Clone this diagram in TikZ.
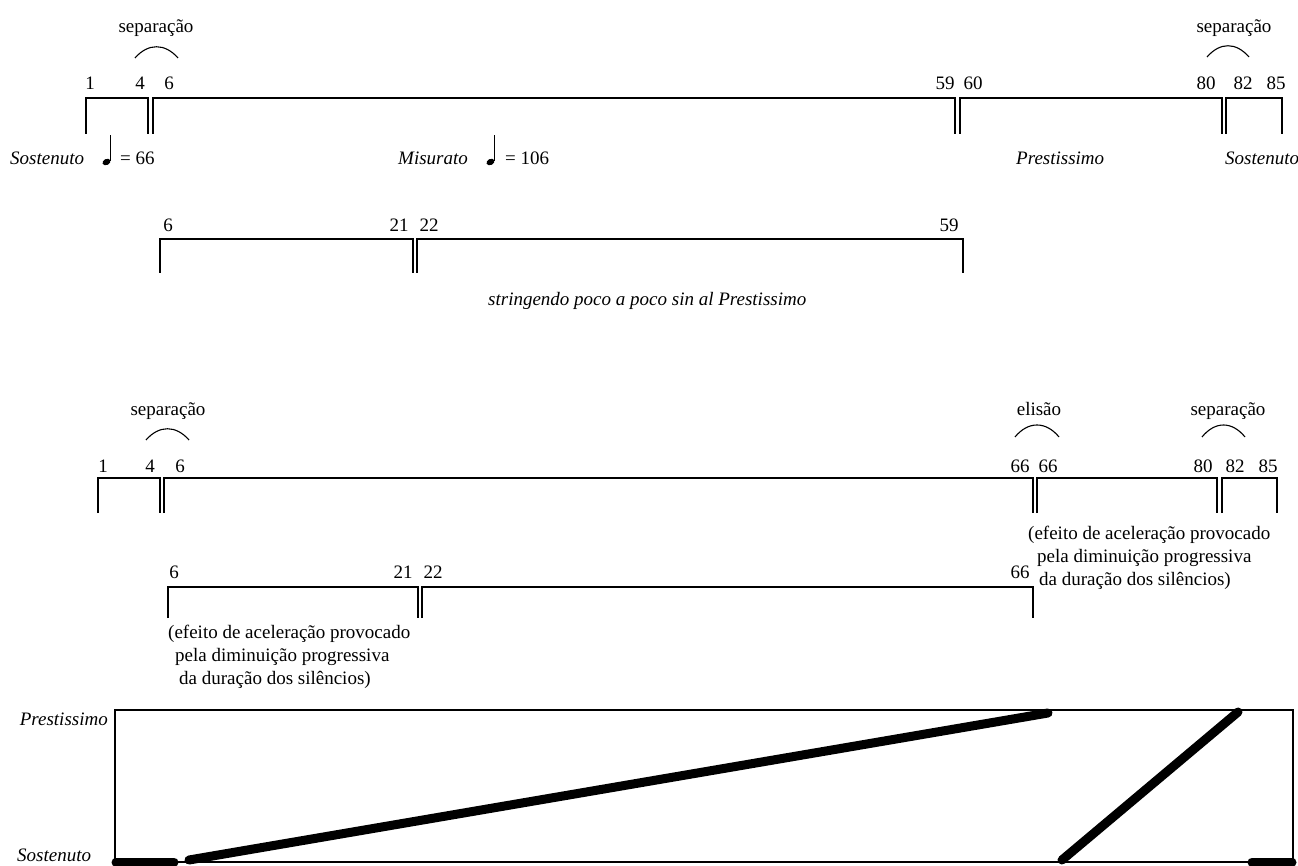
\documentclass[tikz,border=0pt]{standalone}
\usepackage{fontspec}
\setmainfont{Liberation Serif}
\begin{document}
\begin{tikzpicture}[x=1pt,y=-1pt,
  font=\fontsize{19}{23}\selectfont,
  bar/.style={line width=1.6pt},
  slur/.style={line width=1.1pt},
  lbl/.style={anchor=base, inner sep=0pt},
  lblw/.style={anchor=base west, inner sep=0pt},
  itl/.style={anchor=base west, inner sep=0pt, font=\fontsize{19}{23}\selectfont\itshape},
  curve/.style={line width=9pt, line cap=round}]
\useasboundingbox (0,0) rectangle (1298,866);

% ---------- row 1 ----------
\draw[bar] (86,134) |- (148,98) -- (148,134);
\draw[bar] (153,134) |- (955,98) -- (955,134);
\draw[bar] (960,134) |- (1222,98) -- (1222,134);
\draw[bar] (1226,134) |- (1282,98) -- (1282,134);
\node[lbl] (r1a) at (90,90) {1};
\node[lbl] (r1b) at (140,90) {4};
\node[lbl] (r1c) at (169,90) {6};
\node[lbl] (r1d) at (945,90) {59};
\node[lbl] (r1e) at (973,90) {60};
\node[lbl] (r1f) at (1206,90) {80};
\node[lbl] (r1g) at (1243,90) {82};
\node[lbl] (r1h) at (1276,90) {85};
\node[lbl] (s1) at (156,33) {separação};
\draw[slur] (135,58) .. controls (148,43) and (165,43) .. (178,58);
\node[lbl] (s2) at (1234,33) {separação};
\draw[slur] (1207,57) .. controls (1220,42) and (1236,42) .. (1249,57);

\node[itl] (sost1) at (10,165) {Sostenuto};
\fill[rotate around={25:(106.5,162)}] (106.5,162) ellipse [x radius=4.2pt, y radius=3pt];
\draw[line width=1pt] (110.2,161) -- (110.2,135);
\node[lblw] (eq1) at (120,165) {= 66};
\node[itl] (mis) at (398,165) {Misurato};
\fill[rotate around={25:(490.5,162)}] (490.5,162) ellipse [x radius=4.2pt, y radius=3pt];
\draw[line width=1pt] (494.2,161) -- (494.2,135);
\node[lblw] (eq2) at (505,165) {= 106};
\node[itl] (prest1) at (1016,165) {Prestissimo};
\node[itl] (sost2) at (1225,165) {Sostenuto};

% ---------- row 2 ----------
\draw[bar] (160,273) |- (413,239) -- (413,273);
\draw[bar] (417,273) |- (963,239) -- (963,273);
\node[lbl] (r2a) at (168,232) {6};
\node[lbl] (r2b) at (399,232) {21};
\node[lbl] (r2c) at (429,232) {22};
\node[lbl] (r2d) at (949,232) {59};
\node[itl] (string) at (488,306) {stringendo poco a poco sin al Prestissimo};

% ---------- row 3 ----------
\draw[bar] (98,513) |- (160,478) -- (160,513);
\draw[bar] (164,513) |- (1033,478) -- (1033,513);
\draw[bar] (1037,513) |- (1217,478) -- (1217,513);
\draw[bar] (1222,513) |- (1277,478) -- (1277,513);
\node[lbl] (r3a) at (103,472) {1};
\node[lbl] (r3b) at (150,472) {4};
\node[lbl] (r3c) at (180,472) {6};
\node[lbl] (r3d) at (1020,472) {66};
\node[lbl] (r3e) at (1048,472) {66};
\node[lbl] (r3f) at (1203,472) {80};
\node[lbl] (r3g) at (1235,472) {82};
\node[lbl] (r3h) at (1268,472) {85};
\node[lbl] (s3) at (168,415) {separação};
\draw[slur] (146,440) .. controls (159,425) and (176,425) .. (189,440);
\node[lbl] (el) at (1039,415) {elisão};
\draw[slur] (1015,437) .. controls (1028,421) and (1046,421) .. (1059,437);
\node[lbl] (s4) at (1228,415) {separação};
\draw[slur] (1202,437) .. controls (1215,421) and (1232,421) .. (1245,437);

\node[lblw] (ra1) at (1028,539) {(efeito de aceleração provocado};
\node[lblw] (ra2) at (1037,562) {pela diminuição progressiva};
\node[lblw] (ra3) at (1039,585) {da duração dos silêncios)};

% ---------- row 4 ----------
\draw[bar] (168,618) |- (418,587) -- (418,618);
\draw[bar] (422,618) |- (1033,587) -- (1033,618);
\node[lbl] (r4a) at (174,578) {6};
\node[lbl] (r4b) at (403,578) {21};
\node[lbl] (r4c) at (433,578) {22};
\node[lbl] (r4d) at (1020,578) {66};
\node[lblw] (la1) at (168,638) {(efeito de aceleração provocado};
\node[lblw] (la2) at (175,661) {pela diminuição progressiva};
\node[lblw] (la3) at (179,684) {da duração dos silêncios)};

% ---------- graph ----------
\draw[line width=1.2pt] (115,710) rectangle (1293,862);
\node[anchor=base east, inner sep=0pt, font=\fontsize{19}{23}\selectfont\itshape] (gp) at (108,725) {Prestissimo};
\node[itl] (gs) at (17,861) {Sostenuto};
\coordinate (a0) at (116,862);
\coordinate (a1) at (174,862);
\coordinate (b0) at (189,860);
\coordinate (b1) at (1048,713);
\coordinate (c0) at (1062,860);
\coordinate (c1) at (1238,712);
\coordinate (d0) at (1252,862);
\coordinate (d1) at (1292,862);
\draw[curve] (a0) -- (a1);
\draw[curve] (b0) -- (b1);
\draw[curve] (c0) -- (c1);
\draw[curve] (d0) -- (d1);
\end{tikzpicture}
\end{document}
